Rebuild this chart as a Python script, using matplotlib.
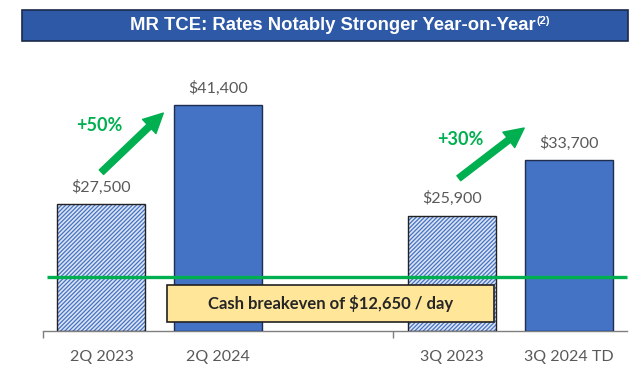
import matplotlib
matplotlib.use("Agg")
import matplotlib.pyplot as plt
from matplotlib.patches import Rectangle, FancyArrowPatch

# ---- data ----
categories = ["2Q 2023", "2Q 2024", "3Q 2023", "3Q 2024 TD"]
positions = [0, 1, 3, 4]
values = [27500, 41400, 25900, 33700]
value_labels = ["$27,500", "$41,400", "$25,900", "$33,700"]
hatched = [True, False, True, False]
pct_labels = ["+50%", "+30%"]
breakeven_text = "Cash breakeven of $12,650 / day"
title = "MR TCE: Rates Notably Stronger Year-on-Year"
title_note = "(2)"

BLUE = "#4472C4"
LIGHT = "#DCE4F4"
GREEN = "#00B050"
GRAY = "#595959"

plt.rcParams["hatch.linewidth"] = 0.9
fig = plt.figure(figsize=(6.4, 3.7), dpi=100)
fig.patch.set_facecolor("white")

# title banner
fig.patches.append(Rectangle((22 / 640, 1 - 41 / 370), 606 / 640, 31 / 370,
                             transform=fig.transFigure, facecolor="#2E59A6",
                             edgecolor="#1B2A4A", linewidth=1.2))
t = fig.text(0.52, 1 - 26 / 370, title, color="white", fontsize=13.3,
             fontweight="bold", family="Liberation Sans", ha="center", va="center")
fig.canvas.draw()
bb = t.get_window_extent()
fig.text((bb.x1 + 1) / 640, 1 - 21 / 370, title_note, color="white", fontsize=8,
         fontweight="bold", family="Liberation Sans", ha="left", va="center")

ax = fig.add_axes([43 / 640, 39 / 370, 584 / 640, 271 / 370])
ax.set_xlim(-0.5, 4.5)
ax.set_ylim(9700, 47750)

for p, v, h in zip(positions, values, hatched):
    if h:
        ax.bar(p, v - 9700, bottom=9700, width=0.755, facecolor=LIGHT,
               edgecolor=BLUE, hatch="////////", linewidth=0, zorder=2)
        ax.bar(p, v - 9700, bottom=9700, width=0.755, facecolor="none",
               edgecolor="#222222", linewidth=1.0, zorder=3)
    else:
        ax.bar(p, v - 9700, bottom=9700, width=0.755, facecolor=BLUE,
               edgecolor="#1F2D4F", linewidth=1.0, zorder=3)

for p, v, lab in zip(positions, values, value_labels):
    ax.text(p, v + 2400, lab, ha="center", va="center", fontsize=11.5,
            family="Lato", color=GRAY)

# breakeven line & box
ax.plot([-0.47, 4.5], [17250, 17250], color=GREEN, linewidth=2.4, zorder=4,
        clip_on=False, solid_capstyle="butt")
ax.add_patch(Rectangle((0.56, 10950), 2.8, 5180, facecolor="#FFE699",
                       edgecolor="#222222", linewidth=1.2, zorder=5))
ax.text(1.96, 13550, breakeven_text, ha="center", va="center", fontsize=12,
        family="Lato", fontweight="bold", color="#262626", zorder=6)

# growth arrows
for (x0, y0, x1, y1), (tx, ty), lab in zip(
        [(0.0, 32000, 0.53, 40300), (3.06, 31150, 3.62, 38200)],
        [(-0.02, 38600), (3.07, 36650)], pct_labels):
    ax.add_patch(FancyArrowPatch((x0, y0), (x1, y1), arrowstyle="simple,head_width=14,head_length=14,tail_width=4.5",
                                 color=GREEN, mutation_scale=1, zorder=6,
                                 shrinkA=0, shrinkB=0))
    ax.text(tx, ty, lab, ha="center", va="center", fontsize=13, fontweight="bold",
            family="Lato", color=GREEN)

ax.set_xticks(positions)
ax.set_xticklabels(categories, fontsize=11.5, family="Lato", color=GRAY)
ax.tick_params(axis="x", which="major", length=0, pad=14)
ax.set_xticks([-0.5, 2.5], minor=True)
ax.tick_params(axis="x", which="minor", length=5, color="#7F7F7F", width=1)
ax.set_yticks([])
for s in ["top", "right", "left"]:
    ax.spines[s].set_visible(False)
ax.spines["bottom"].set_color("#7F7F7F")
ax.spines["bottom"].set_linewidth(1.0)
ax.patch.set_alpha(0)

fig.savefig("out.png", dpi=100)
